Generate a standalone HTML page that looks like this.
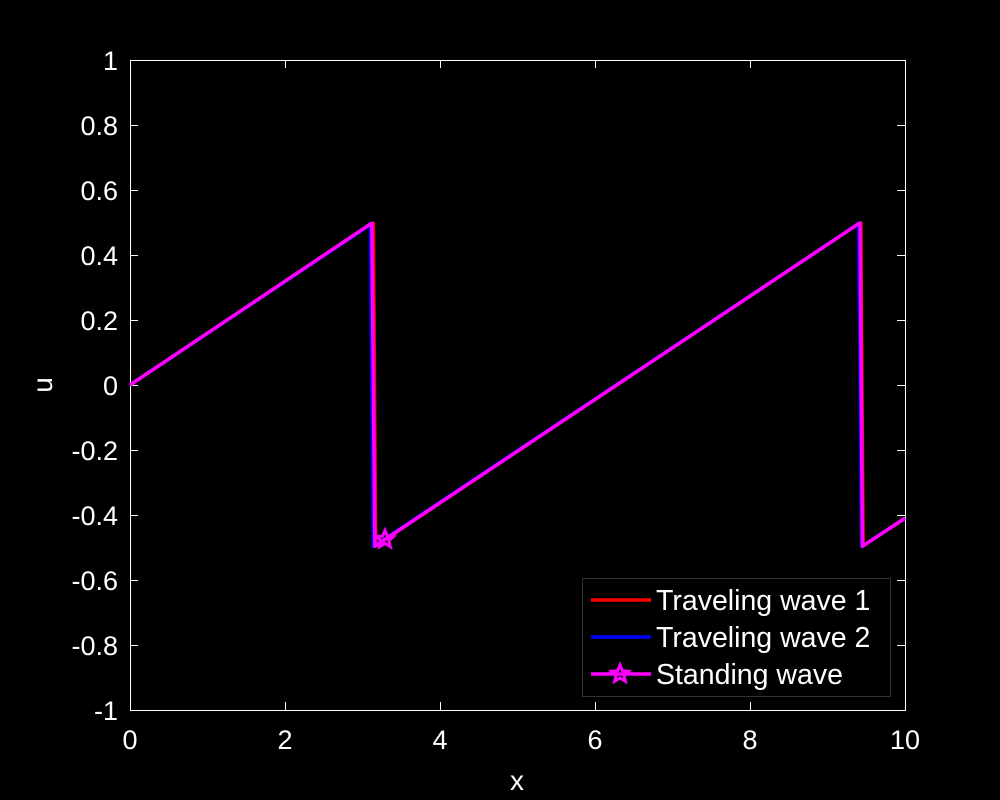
<!DOCTYPE html>
<html><head><meta charset="utf-8"><style>
html,body{margin:0;background:#000;width:1000px;height:800px;overflow:hidden}
text{font-family:"Liberation Sans",sans-serif;fill:#fff}
</style></head><body>
<svg id="c" width="1000" height="800" xmlns="http://www.w3.org/2000/svg"></svg>
<script>
const xTicks=[0,2,4,6,8,10];
const yTicks=[-1,-0.8,-0.6,-0.4,-0.2,0,0.2,0.4,0.6,0.8,1];
const wave1X=[0,3.12,3.14,3.17,9.41,9.43,9.46,10];
const wave1Y=[0,0.497,0.497,-0.495,0.498,0.498,-0.495,-0.41];
const wave2X=[0,3.08,3.10,3.14,9.38,9.40,9.44,10];
const wave2Y=[0,0.49,0.497,-0.497,0.493,0.498,-0.497,-0.41];
const standX=[0,3.10,3.12,3.16,9.40,9.42,9.45,10];
const standY=[0,0.495,0.497,-0.496,0.496,0.498,-0.496,-0.41];
const markerX=[3.29];
const markerY=[-0.475];
const L=130,R=905,T=60,B=710;
const sx=v=>L+(v-0)/(10-0)*(R-L);
const sy=v=>B-(v+1)/2*(B-T);
const svg=document.getElementById('c');
const NS='http://www.w3.org/2000/svg';
function mk(tag,attrs){const e=document.createElementNS(NS,tag);for(const k in attrs)e.setAttribute(k,attrs[k]);svg.appendChild(e);return e;}
let e=mk('rect',{x:L+0.5,y:T+0.5,width:R-L,height:B-T,fill:'none',stroke:'#fff','stroke-width':1});


xTicks.forEach(v=>{
 const px=Math.round(sx(v))+0.5;
 let t=mk('path',{d:`M${px},${B}v-8M${px},${T}v8`,stroke:'#fff'});
 
 
 let l=mk('text',{x:sx(v),y:B+39,'font-size':27,'text-anchor':'middle'});l.textContent=v;
 
 
});
yTicks.forEach(v=>{
 const py=Math.round(sy(v))+0.5;
 let t=mk('path',{d:`M${L},${py}h8M${R},${py}h-8`,stroke:'#fff'});
 
 
 let l=mk('text',{x:L-12,y:sy(v)+10,'font-size':27,'text-anchor':'end'});l.textContent=+v.toFixed(1);
 
 
});
let xt=mk('text',{x:517,y:790,'font-size':28,'text-anchor':'middle'});xt.textContent='x';


let yt=mk('text',{x:0,y:0,'font-size':28,'text-anchor':'middle',transform:'translate(52,385) rotate(-90)'});yt.textContent='u';


function line(xs,ys,col,name){
 const d=xs.map((x,i)=>(i?'L':'M')+sx(x)+','+sy(ys[i])).join('');
 let p=mk('path',{d,fill:'none',stroke:col,'stroke-width':3.5,'stroke-linejoin':'round'});
 
 
}
line(wave1X,wave1Y,'#f00','traveling-wave-1-line');
line(wave2X,wave2Y,'#00f','traveling-wave-2-line');
line(standX,standY,'#f0f','standing-wave-line');
function star(cx,cy,r){let pts=[];for(let i=0;i<10;i++){const a=-Math.PI/2+i*Math.PI/5;const rr=i%2?r*0.45:r;pts.push((cx+rr*Math.cos(a)).toFixed(1)+','+(cy+rr*Math.sin(a)).toFixed(1));}return pts.join(' ');}
markerX.forEach((x,i)=>{
 let s=mk('polygon',{points:star(sx(x),sy(markerY[i]),9),fill:'none',stroke:'#f0f','stroke-width':3});
 
 
});
let lg=mk('rect',{x:582.5,y:578.5,width:308,height:118,fill:'#000',stroke:'#333'});


const leg=[['Traveling wave 1','#f00',600],['Traveling wave 2','#00f',637],['Standing wave','#f0f',674]];
leg.forEach(([n,c,y],i)=>{
 let s=mk('path',{d:`M591,${y}h60`,stroke:c,'stroke-width':3.5});
 
 
 if(i==2){let m=mk('polygon',{points:star(620,y,9),fill:'none',stroke:'#f0f','stroke-width':3});
  
  }
 let t=mk('text',{x:656,y:y+10,'font-size':28.5});t.textContent=n;
 
 
});
</script>
</body></html>
